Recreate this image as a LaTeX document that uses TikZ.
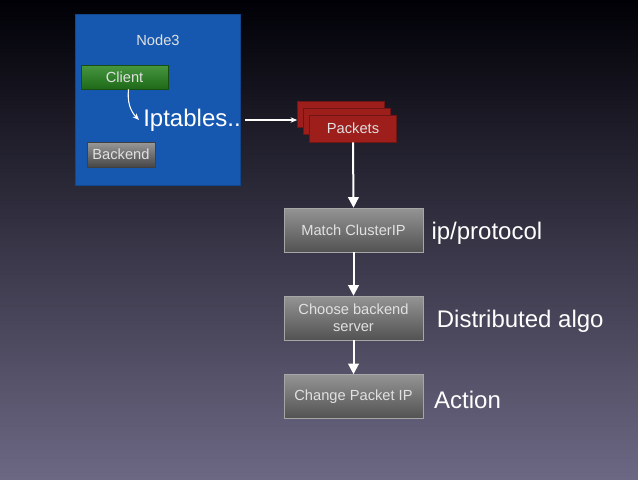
\documentclass[tikz,border=0pt]{standalone}
\usepackage{fontspec}
\setmainfont{Liberation Sans}
\usetikzlibrary{positioning,arrows.meta}

\definecolor{bgtop}{RGB}{0,0,6}
\definecolor{bgmid}{RGB}{34,32,62}
\definecolor{bgbot}{RGB}{108,104,132}
\definecolor{nodeblue}{RGB}{22,88,176}
\definecolor{clientgreen}{RGB}{38,132,30}
\definecolor{packetred}{RGB}{158,30,28}
\definecolor{boxtext}{RGB}{225,225,225}
\definecolor{steptop}{RGB}{148,148,148}
\definecolor{stepbot}{RGB}{82,82,82}

\begin{document}
\begin{tikzpicture}
  [x=0.75pt,y=-0.75pt,
    small/.style={font=\fontsize{11}{13}\selectfont},
    big/.style={font=\fontsize{18}{20}\selectfont,text=white,inner sep=3pt,yshift=-2.5pt},
    minibox/.style={rectangle,small,text=boxtext,inner sep=0pt},
    packet/.style={minibox,fill=packetred,draw=packetred!70!black,
      minimum width=65.25pt,minimum height=19.5pt},
    stepbox/.style={minibox,draw=gray!70,top color=steptop,
      bottom color=stepbot,align=center,
      minimum width=104.25pt,minimum height=33pt},
    flow/.style={draw=white,line width=1.5pt,-{Triangle[length=8pt,width=8pt]}}]

  % background
  \shade[top color=bgtop,middle color=bgmid,bottom color=bgbot]
    (0,0) rectangle (638,479);
  \useasboundingbox (0,0) rectangle (638,479);

  % Node3 with its pods
  \node[rectangle,fill=nodeblue,draw=nodeblue!80!black,inner sep=0pt,
        minimum width=123.75pt,minimum height=128.25pt] (node3) at (157.5,99.5) {};
  \node[small,text=boxtext] (node3label) at (158,40) {Node3};
  \node[minibox,top color=clientgreen!85!white,bottom color=clientgreen!80!black,
        draw=clientgreen!60!black,minimum width=65.25pt,minimum height=18pt]
        (client) at (124.5,77) {Client};
  \node[minibox,top color=gray!80,bottom color=gray!55!black,draw=gray!50!black,
        minimum width=51pt,minimum height=18.75pt] (backend) at (121,154.5) {Backend};
  \node[big,yshift=1pt] (iptables) at (192,118) {Iptables..};

  % stack of packets
  \node[packet] (pktback) at (341,114) {};
  \node[packet] (pktmid) at (347,121) {};
  \node[packet,minimum height=20.25pt] (pktfront) at (353,128.5) {Packets};

  % steps
  \node[stepbox] (match) at (353.5,230) {Match ClusterIP};
  \node[stepbox] (choose) at (353.5,318) {Choose backend\\server};
  \node[stepbox] (change) at (353.5,396.5) {Change Packet IP};

  \node[big,right=3pt of match] (proto) {ip/protocol};
  \node[big,right=7pt of choose] (algo) {Distributed algo};
  \node[big,right=5pt of change] (action) {Action};

  % connectors
  \draw[draw=white,line width=0.8pt,-{Stealth[length=5pt,width=4pt]}]
    ([xshift=3pt]client.south) to[bend right=25] (iptables.west);
  \draw[draw=white,line width=0.8pt,-{Stealth[length=5pt,width=4pt]}]
    (iptables.east) -- (iptables.east -| pktback.west);
  \draw[flow] (pktfront.south) -- (match.north);
  \draw[flow] (match.south) -- (choose.north);
  \draw[flow] (choose.south) -- (change.north);

\end{tikzpicture}
\end{document}
